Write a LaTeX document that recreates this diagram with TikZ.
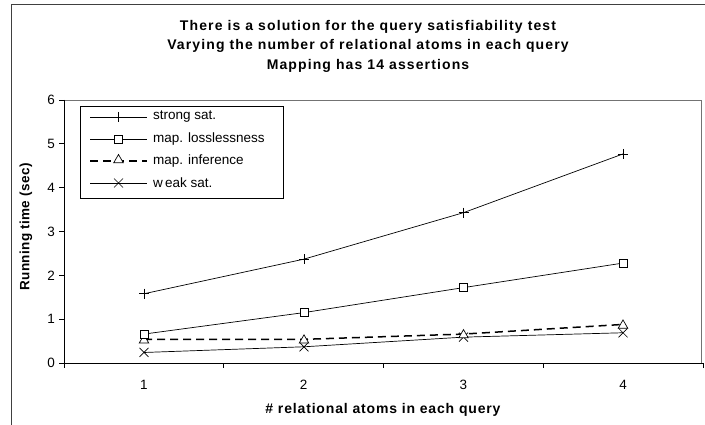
\documentclass[tikz,border=0pt]{standalone}
\usepackage{fontspec}
\setmainfont{Liberation Sans}
\newfontfamily\spacedfont[LetterSpace=8]{Liberation Sans}
\newfontfamily\midspaced[LetterSpace=6]{Liberation Sans}
\newfontfamily\lightspaced[LetterSpace=3]{Liberation Sans}
\usetikzlibrary{shapes.geometric}
\begin{document}
\begin{tikzpicture}[x=1pt,y=-1pt,
  frameline/.style={draw=black!75,line width=1.3pt},
  arealine/.style={draw=black!55,line width=0.8pt},
  axisline/.style={draw=black,line width=0.8pt},
  series/.style={draw=black,line width=0.7pt},
  dashseries/.style={draw=black,line width=1.5pt,dash pattern=on 8pt off 5pt},
  sqmark/.style={draw=black,fill=white,line width=0.7pt,rectangle,minimum size=8pt,inner sep=0pt},
  trimark/.style={draw=black,fill=white,line width=0.7pt,regular polygon,regular polygon sides=3,minimum size=11pt,inner sep=0pt},
  ticklabel/.style={font=\fontsize{13.5}{15}\selectfont,inner sep=1pt},
  legendtext/.style={font=\fontsize{13.5}{15}\selectfont,anchor=west,inner sep=0pt},
  xtitlestyle/.style={font=\midspaced\fontsize{14}{16}\selectfont\bfseries,inner sep=0pt},
  ytitlestyle/.style={font=\lightspaced\fontsize{13.5}{16}\selectfont\bfseries,inner sep=0pt},
  plusmark/.pic={\draw[black,line width=0.7pt] (-5,0) -- (5,0) (0,-5) -- (0,5);},
  crossmark/.pic={\draw[black,line width=0.7pt] (-4.5,-4.5) -- (4.5,4.5) (-4.5,4.5) -- (4.5,-4.5);}
]
\useasboundingbox (0,0) rectangle (705,425);

% chart frame (open to the right and bottom)
\draw[frameline] (11.5,425) -- (11.5,4.5) -- (705,4.5);

% title
\node[font=\spacedfont\fontsize{14}{19.5}\selectfont\bfseries,align=center] (title) at (368,46)
  {There is a solution for the query satisfiability test\\
   Varying the number of relational atoms in each query\\
   Mapping has 14 assertions};

% plot area border
\draw[arealine] (64,100) -- (701,100) -- (701,363);

% axes
\coordinate (origin) at (64,363);
\coordinate (ytop) at (64,100);
\coordinate (xend) at (703,363);
\draw[axisline] (ytop) -- (origin) -- (xend);
\foreach \v in {0,...,6} {
  \draw[axisline] (59,{363-43.83*\v}) -- (64,{363-43.83*\v});
  \node[ticklabel,anchor=east] (yl\v) at (56,{363-43.83*\v}) {\v};
}
\foreach \k in {0,...,4} {
  \draw[axisline] ({64+159.75*\k},363) -- ({64+159.75*\k},368);
}
\foreach \k in {1,...,4} {
  \node[ticklabel] (xl\k) at ({64+159.75*(\k-0.5)},385) {\k};
}

% axis titles
\node[xtitlestyle] (xtitle) at (383,410) {\# relational atoms in each query};
\node[ytitlestyle,rotate=90] (ytitle) at (26,227) {Running time (sec)};

% data points
\foreach \name/\a/\b/\c/\d in {s/1.58/2.37/3.43/4.77, l/0.66/1.15/1.72/2.28,
                               i/0.54/0.54/0.66/0.88, w/0.24/0.37/0.59/0.69} {
  \coordinate (\name1) at (144,{363-43.83*\a});
  \coordinate (\name2) at (304,{363-43.83*\b});
  \coordinate (\name3) at (463.5,{363-43.83*\c});
  \coordinate (\name4) at (623,{363-43.83*\d});
}

% series lines
\draw[series] (w1) -- (w2) -- (w3) -- (w4);
\draw[dashseries] (i1) -- (i2) -- (i3) -- (i4);
\draw[series] (l1) -- (l2) -- (l3) -- (l4);
\draw[series] (s1) -- (s2) -- (s3) -- (s4);

% markers
\foreach \k in {1,...,4} {
  \pic at (w\k) {crossmark};
  \node[trimark] (im\k) at ([yshift=-1pt]i\k) {};
  \node[sqmark] (lm\k) at (l\k) {};
  \pic at (s\k) {plusmark};
}

% legend
\draw[black,line width=0.8pt] (80,106) rectangle (283,198);
\coordinate (ga) at (90,117);  \coordinate (gb) at (147,117);
\draw[series] (ga) -- (gb);
\pic at (118.5,117) {plusmark};
\node[legendtext] (lg1) at (153,117) {strong sat.};

\coordinate (gc) at (90,139);  \coordinate (gd) at (147,139);
\draw[series] (gc) -- (gd);
\node[sqmark] (lgm2) at (118.5,139) {};
\node[legendtext] (lg2) at (153,139) {map. losslessness};

\coordinate (ge) at (90,161);  \coordinate (gf) at (147,161);
\draw[dashseries] (ge) -- (gf);
\node[trimark] (lgm3) at (118.5,160) {};
\node[legendtext] (lg3) at (153,161) {map. inference};

\coordinate (gg) at (90,183);  \coordinate (gh) at (147,183);
\draw[series] (gg) -- (gh);
\pic at (118.5,183) {crossmark};
\node[legendtext] (lg4) at (153,183) {w\,eak sat.};
\end{tikzpicture}
\end{document}
